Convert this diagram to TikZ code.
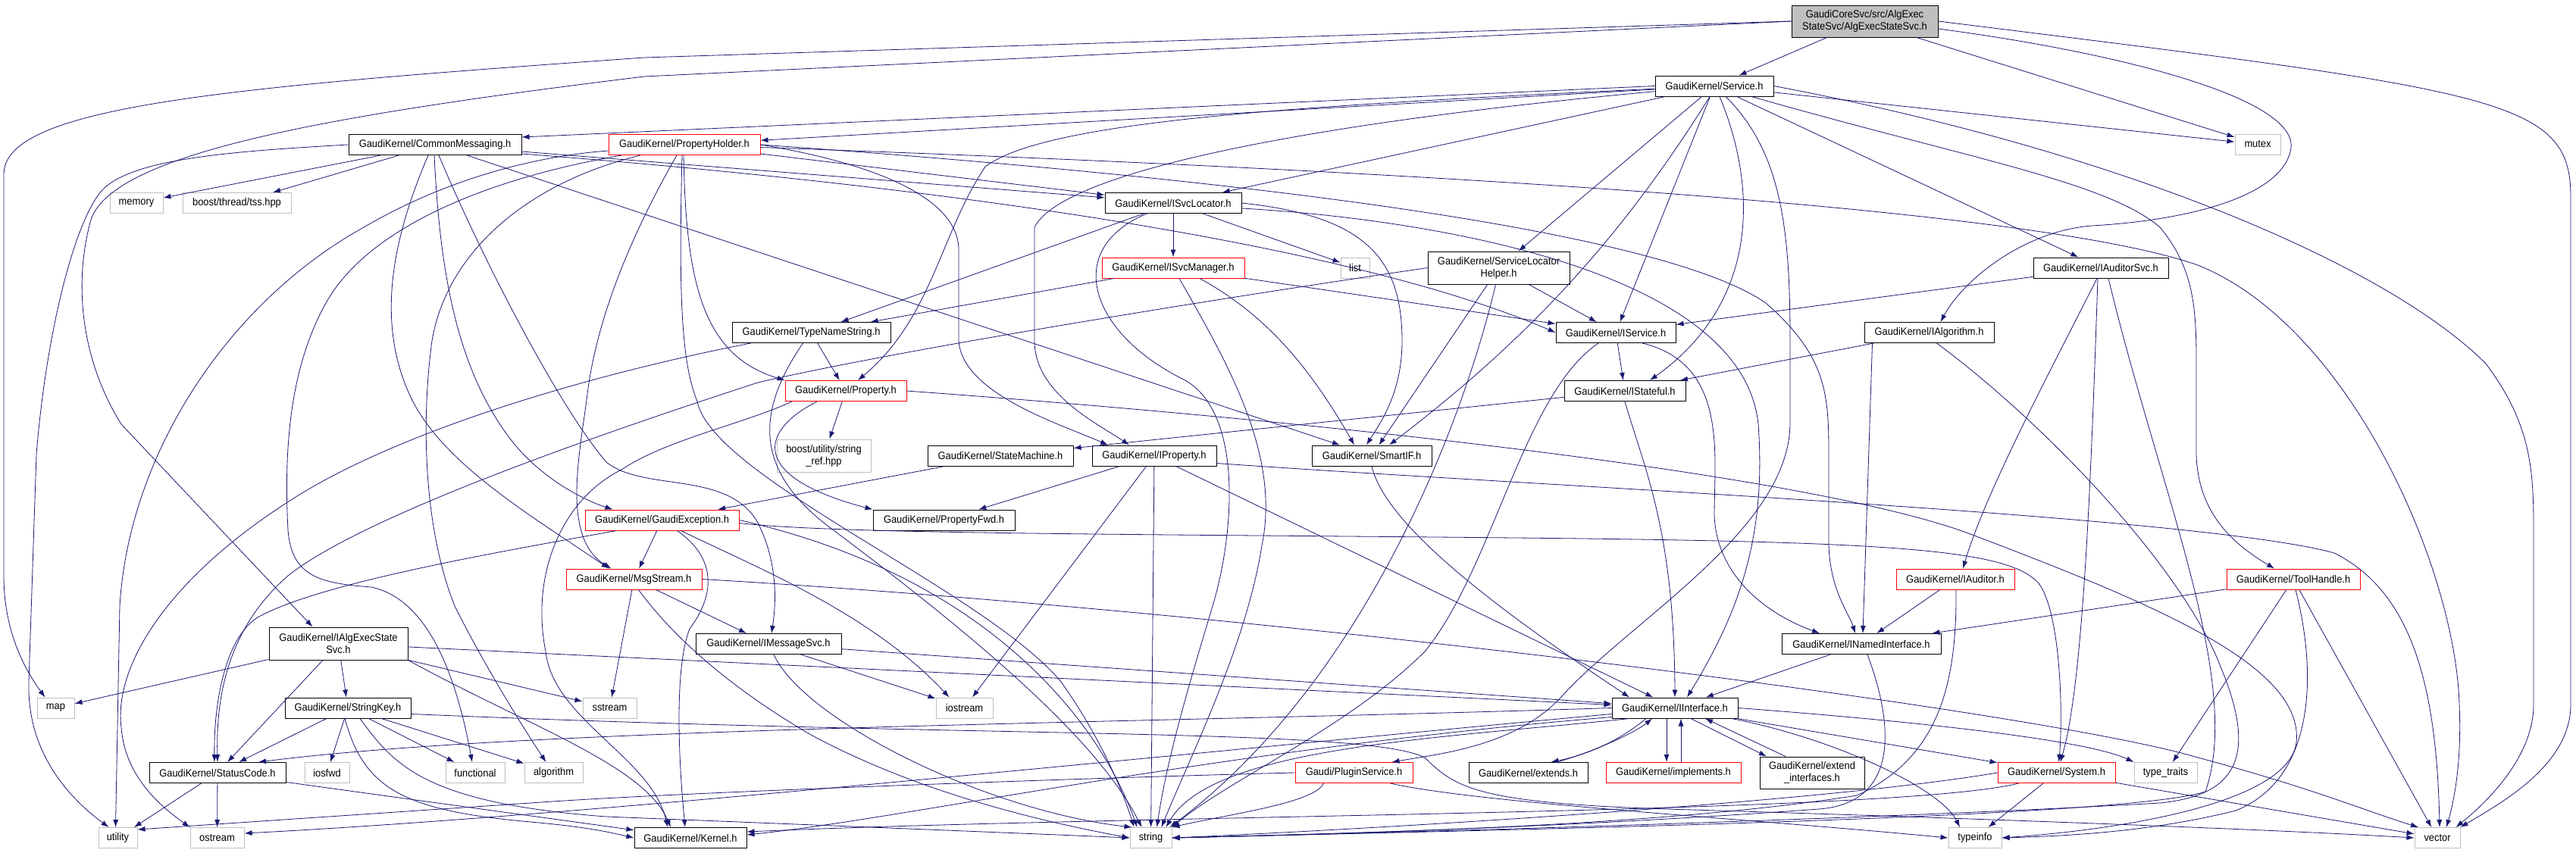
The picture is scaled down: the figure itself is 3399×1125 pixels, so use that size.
\documentclass[tikz,border=0pt]{standalone}
\usepackage{fontspec}
\setmainfont{Liberation Sans}[FakeStretch=0.92]
\usetikzlibrary{arrows.meta}
\definecolor{edgeblue}{RGB}{25,25,112}
\definecolor{extgray}{RGB}{191,191,191}
\tikzset{block/.style={draw, line width=1pt, fill=white, inner sep=0pt, minimum height=27pt, align=center, font=\fontsize{14}{16}\selectfont},
  redblock/.style={block, draw=red},
  grayblock/.style={block, draw=extgray},
  rootblock/.style={block, fill=extgray},
  line/.style={-{Latex[length=10pt,width=7pt]}, draw=edgeblue, line width=0.8pt}}

\begin{document}
\begin{tikzpicture}[x=1pt,y=-1pt]
    \useasboundingbox (0,0) rectangle (3399,1125);

    \node[rootblock,minimum width=193pt,minimum height=42pt] (top)    at (2460.5,28)   {GaudiCoreSvc/src/AlgExec\\StateSvc/AlgExecStateSvc.h};
    \node[block,minimum width=156pt]                       (svc)    at (2262,113.5)  {GaudiKernel/Service.h};
    \node[grayblock,minimum width=60pt]                    (mutex)  at (2979,190.5)  {mutex};
    \node[block,minimum width=228pt]                       (cm)     at (574,191)     {GaudiKernel/CommonMessaging.h};
    \node[grayblock,minimum width=70pt]                    (mem)    at (180,268)     {memory};
    \node[grayblock,minimum width=143pt]                   (tss)    at (312.5,268)   {boost/thread/tss.hpp};
    \node[redblock,minimum width=200pt]                    (ph)     at (903,191)     {GaudiKernel/PropertyHolder.h};
    \node[block,minimum width=180pt]                       (isl)    at (1548,268)    {GaudiKernel/ISvcLocator.h};
    \node[redblock,minimum width=188pt]                    (ism)    at (1548,353.5)  {GaudiKernel/ISvcManager.h};
    \node[block,minimum width=209pt]                       (tns)    at (1070.5,439)  {GaudiKernel/TypeNameString.h};
    \node[redblock,minimum width=160pt]                    (prop)   at (1116,516)    {GaudiKernel/Property.h};
    \node[grayblock,minimum width=38pt]                    (lst)    at (1788,353.5)  {list};
    \node[block,minimum width=187pt,minimum height=43pt]   (slh)    at (1977.5,353.5){GaudiKernel/ServiceLocator\\Helper.h};
    \node[block,minimum width=158pt]                       (isv)    at (2132,439)    {GaudiKernel/IService.h};
    \node[block,minimum width=160pt]                       (ist)    at (2144,516)    {GaudiKernel/IStateful.h};
    \node[block,minimum width=178pt]                       (ias)    at (2772,353.5)  {GaudiKernel/IAuditorSvc.h};
    \node[block,minimum width=171pt]                       (ialg)   at (2545.5,439)  {GaudiKernel/IAlgorithm.h};
    \node[grayblock,minimum width=124pt,minimum height=43pt] (sref) at (1087,601.5)  {boost/utility/string\\\_ref.hpp};
    \node[block,minimum width=192pt]                       (sm)     at (1320,601.5)  {GaudiKernel/StateMachine.h};
    \node[block,minimum width=164pt]                       (iprop)  at (1523,601.5)  {GaudiKernel/IProperty.h};
    \node[block,minimum width=158pt]                       (smif)   at (1810,601.5)  {GaudiKernel/SmartIF.h};
    \node[redblock,minimum width=203pt]                    (gex)    at (873.5,686.5) {GaudiKernel/GaudiException.h};
    \node[block,minimum width=187pt]                       (pfwd)   at (1245.5,686.5){GaudiKernel/PropertyFwd.h};
    \node[redblock,minimum width=179pt]                    (msg)    at (836.5,764.5) {GaudiKernel/MsgStream.h};
    \node[block,minimum width=192pt]                       (imsg)   at (1014,850)    {GaudiKernel/IMessageSvc.h};
    \node[block,minimum width=210pt]                       (inamed) at (2456,850)    {GaudiKernel/INamedInterface.h};
    \node[redblock,minimum width=156pt]                    (iaud)   at (2580,764.5)  {GaudiKernel/IAuditor.h};
    \node[redblock,minimum width=176pt]                    (tool)   at (3026,764.5)  {GaudiKernel/ToolHandle.h};
    \node[block,minimum width=183pt,minimum height=43pt]   (iaes)   at (446.5,849.5) {GaudiKernel/IAlgExecState\\Svc.h};
    \node[grayblock,minimum width=49pt]                    (map)    at (73.5,934.5)  {map};
    \node[grayblock,minimum width=71pt]                    (sstr)   at (804.5,934.5) {sstream};
    \node[grayblock,minimum width=75pt]                    (iostr)  at (1272.5,934.5){iostream};
    \node[block,minimum width=166pt]                       (skey)   at (459,934.5)   {GaudiKernel/StringKey.h};
    \node[block,minimum width=166pt]                       (iif)    at (2210,934.5)  {GaudiKernel/IInterface.h};
    \node[block,minimum width=180pt]                       (sc)     at (287,1020)    {GaudiKernel/StatusCode.h};
    \node[grayblock,minimum width=59pt]                    (iosfwd) at (431.5,1020)  {iosfwd};
    \node[grayblock,minimum width=78pt]                    (func)   at (627,1020)    {functional};
    \node[grayblock,minimum width=77pt]                    (algo)   at (730.5,1020)  {algorithm};
    \node[redblock,minimum width=155pt]                    (plug)   at (1786.5,1020) {Gaudi/PluginService.h};
    \node[block,minimum width=157pt]                       (ext)    at (2016.5,1020) {GaudiKernel/extends.h};
    \node[redblock,minimum width=178pt]                    (impl)   at (2208,1020)   {GaudiKernel/implements.h};
    \node[block,minimum width=138pt,minimum height=42pt]   (extif)  at (2391,1020)   {GaudiKernel/extend\\\_interfaces.h};
    \node[redblock,minimum width=155pt]                    (sys)    at (2713.5,1020) {GaudiKernel/System.h};
    \node[grayblock,minimum width=83pt]                    (ttr)    at (2857.5,1020) {type\_traits};
    \node[grayblock,minimum width=51pt]                    (util)   at (155.5,1106)  {utility};
    \node[grayblock,minimum width=71pt]                    (ostr)   at (286.5,1106)  {ostream};
    \node[block,minimum width=148pt]                       (kern)   at (911,1106)    {GaudiKernel/Kernel.h};
    \node[grayblock,minimum width=55pt]                    (str)    at (1518.5,1106) {string};
    \node[grayblock,minimum width=70pt]                    (tinfo)  at (2606,1106)   {typeinfo};
    \node[grayblock,minimum width=60pt]                    (vec)    at (3216,1106)   {vector};

    \draw[line] (top) -- (svc);
    \draw[line] (top) -- (mutex);
    \draw[line] (top.east) .. controls (3300,120) and (3392,130) .. (3392,260) -- (3392,930) .. controls (3392,1010) and (3300,1060) .. (vec.north east);
    \draw[line] (top.west) -- (850,76) .. controls (300,115) and (5,140) .. (5,230) -- (5,760) .. controls (5,830) and (30,880) .. ([xshift=-14pt]map.north);
    \draw[line] (top.west) -- (850,101) .. controls (450,150) and (150,200) .. (120,290) .. controls (95,380) and (110,480) .. (160,560) -- ([xshift=-34pt]iaes.north);
    \draw[line] ([yshift=-10pt]top.east) .. controls (2800,70) and (3030,130) .. (3023,195) .. controls (3015,255) and (2900,290) .. (2760,298) .. controls (2670,305) and (2590,370) .. ([xshift=15pt]ialg.north);

    \draw[line] (svc.west) -- ([yshift=-4pt]cm.north east);
    \draw[line] (svc) -- (ph);
    \draw[line] (svc) .. controls (1700,140) and (1380,160) .. (1300,220) .. controls (1240,310) and (1230,420) .. ([xshift=16pt]prop.north);
    \draw[line] (svc) .. controls (1700,165) and (1400,230) .. (1365,300) -- (1365,450) .. controls (1365,520) and (1450,560) .. ([xshift=-33pt]iprop.north);
    \draw[line] (svc) -- (isl);
    \draw[line] (svc) -- (slh);
    \draw[line] ([xshift=-6pt]svc.south) .. controls (2130,330) and (2000,460) .. ([xshift=23pt]smif.north);
    \draw[line] (svc) -- (isv);
    \draw[line] ([xshift=7pt]svc.south) .. controls (2320,250) and (2320,400) .. ([xshift=33pt]ist.north);
    \draw[line] ([xshift=15pt]svc.south) .. controls (2350,200) and (2362,300) .. (2362,450) -- (2362,560) .. controls (2360,700) and (2150,820) .. (2060,920) .. controls (2000,985) and (1900,995) .. ([xshift=50pt]plug.north);
    \draw[line] (svc) -- (ias);
    \draw[line] (svc) .. controls (2600,210) and (2780,240) .. (2850,300) .. controls (2900,360) and (2898,420) .. (2898,500) -- (2898,600) .. controls (2900,680) and (2950,720) .. ([xshift=-25pt]tool.north);
    \draw[line] (svc) -- (mutex);
    \draw[line] (svc.east) .. controls (2800,200) and (3150,350) .. (3280,480) .. controls (3340,560) and (3343,620) .. (3343,700) -- (3343,930) .. controls (3343,1000) and (3280,1060) .. ([xshift=-6pt]vec.north east);

    \draw[line] (cm.west) .. controls (300,200) and (170,210) .. (133,253) .. controls (95,300) and (60,450) .. (48,600) -- (38,900) .. controls (35,1000) and (100,1060) .. ([xshift=-12pt]util.north);
    \draw[line] (cm) -- (mem);
    \draw[line] (cm) -- (tss);
    \draw[line] ([xshift=-9pt]cm.south) .. controls (520,310) and (495,420) .. (540,520) .. controls (580,610) and (700,680) .. ([xshift=-33pt]msg.north);
    \draw[line] ([xshift=-1pt]cm.south) .. controls (580,350) and (600,480) .. (670,575) .. controls (710,630) and (770,660) .. ([xshift=-65pt]gex.north);
    \draw[line] ([xshift=5pt]cm.south) .. controls (640,350) and (740,540) .. (800,610) .. controls (850,650) and (960,620) .. (1000,690) .. controls (1025,740) and (1025,790) .. ([xshift=4pt]imsg.north);
    \draw[line] (cm) -- (isl);
    \draw[line] ([yshift=-12pt]cm.east) .. controls (1300,250) and (1800,330) .. (isv.west);
    \draw[line] (cm) -- (smif);

    \draw[line] (ph) -- (isl);
    \draw[line] ([xshift=-1pt]ph.south) .. controls (905,380) and (930,470) .. (prop.north west);
    \draw[line] (ph.east) .. controls (1150,215) and (1265,260) .. (1265,330) -- (1265,450) .. controls (1270,520) and (1400,560) .. ([xshift=-61pt]iprop.north);
    \draw[line] (ph.east) .. controls (1700,240) and (2200,310) .. (2330,400) .. controls (2410,470) and (2413,520) .. (2413,600) -- (2413,720) .. controls (2415,780) and (2440,810) .. ([xshift=-8pt]inamed.north);
    \draw[line] ([xshift=-10pt]ph.south) .. controls (850,280) and (790,400) .. (775,520) .. controls (765,600) and (740,710) .. ([xshift=-30pt]msg.north);
    \draw[line] ([xshift=-3pt]ph.south) .. controls (895,400) and (900,480) .. (920,530) .. controls (940,630) and (1300,780) .. (1400,900) .. controls (1450,970) and (1480,1040) .. ([xshift=-22pt]str.north);
    \draw[line] ([xshift=-58pt]ph.south) .. controls (700,240) and (590,330) .. (570,450) .. controls (555,560) and (560,700) .. (600,800) .. controls (640,880) and (690,960) .. ([xshift=-10pt]algo.north);
    \draw[line] ([xshift=-83pt]ph.south) .. controls (620,240) and (480,310) .. (430,400) .. controls (380,490) and (375,600) .. (380,700) .. controls (385,760) and (420,770) .. (490,775) .. controls (560,790) and (600,880) .. ([xshift=-4pt]func.north);
    \draw[line] ([yshift=-8pt]ph.west) .. controls (720,205) and (600,230) .. (480,300) .. controls (300,400) and (170,600) .. (158,800) -- ([xshift=-3pt]util.north);
    \draw[line] (ph) .. controls (2000,230) and (2700,280) .. (2900,350) .. controls (3100,430) and (3240,750) .. (3245,930) .. controls (3248,1000) and (3240,1050) .. ([xshift=12pt]vec.north);

    \draw[line] (isl) -- (ism);
    \draw[line] (isl) -- (lst);
    \draw[line] (isl) -- (tns);
    \draw[line] (isl.east) .. controls (1800,285) and (1850,340) .. (1850,450) .. controls (1850,520) and (1820,560) .. ([xshift=-7pt]smif.north);
    \draw[line] ([xshift=-35pt]isl.south) .. controls (1400,330) and (1440,440) .. (1560,500) .. controls (1640,540) and (1630,700) .. (1600,800) .. controls (1570,900) and (1540,1000) .. ([xshift=8pt]str.north);
    \draw[line] ([yshift=-7pt]isl.east) .. controls (1900,290) and (2300,360) .. (2320,560) .. controls (2330,700) and (2300,800) .. ([xshift=16pt]iif.north);

    \draw[line] (ism) -- (tns);
    \draw[line] (ism) -- (isv);
    \draw[line] ([xshift=35pt]ism.south) .. controls (1660,410) and (1720,470) .. ([xshift=-23pt]smif.north);
    \draw[line] ([xshift=8pt]ism.south) .. controls (1620,480) and (1690,600) .. (1665,720) .. controls (1645,850) and (1570,1000) .. ([xshift=14pt]str.north);

    \draw[line] (tns) -- (prop);
    \draw[line] ([xshift=-11pt]tns.south) .. controls (1000,540) and (990,620) .. (1100,700) .. controls (1300,850) and (1450,980) .. ([xshift=-12pt]str.north);
    \draw[line] ([xshift=-80pt]tns.south) .. controls (800,490) and (550,560) .. (400,650) .. controls (220,760) and (150,880) .. (160,960) .. controls (165,1030) and (220,1070) .. (ostr.north west);

    \draw[line] (prop) -- (sref);
    \draw[line] ([xshift=-38pt]prop.south) .. controls (1000,570) and (990,630) .. (pfwd.north west);
    \draw[line] (prop.east) .. controls (1800,560) and (2400,630) .. (2600,705) .. controls (2850,800) and (3040,880) .. (3030,980) .. controls (3020,1060) and (2800,1095) .. (tinfo.east);
    \draw[line] ([xshift=-71pt]prop.south) .. controls (980,560) and (880,580) .. (820,620) .. controls (740,660) and (700,760) .. (720,860) .. controls (730,950) and (860,1000) .. ([xshift=-30pt]kern.north);

    \draw[line] (slh) -- (isv);
    \draw[line] (slh) -- (smif);
    \draw[line] ([xshift=-4pt]slh.south) .. controls (1930,560) and (1800,900) .. ([xshift=25pt]str.north);
    \draw[line] (slh.west) .. controls (1500,410) and (1150,470) .. (1000,505) .. controls (800,570) and (480,680) .. (380,760) .. controls (300,830) and (285,920) .. (sc.north);

    \draw[line] (isv) -- (ist);
    \draw[line] ([xshift=35pt]isv.south) .. controls (2280,480) and (2262,600) .. (2262,680) .. controls (2265,760) and (2330,810) .. ([xshift=-55pt]inamed.north);
    \draw[line] ([xshift=-23pt]isv.south) .. controls (2010,520) and (1970,750) .. (1880,860) .. controls (1780,960) and (1620,1030) .. ([xshift=28pt]str.north);

    \draw[line] (ist) -- (sm);
    \draw[line] (ist.south) .. controls (2170,620) and (2209,700) .. (iif.north);

    \draw[line] (ias) -- (isv);
    \draw[line] ([xshift=-5pt]ias.south) .. controls (2700,500) and (2620,650) .. ([xshift=10pt]iaud.north);
    \draw[line] ([xshift=-4pt]ias.south) .. controls (2760,600) and (2750,900) .. ([xshift=5pt]sys.north);
    \draw[line] ([xshift=10pt]ias.south) .. controls (2850,650) and (2960,900) .. (2910,1045) .. controls (2800,1080) and (2000,1095) .. (str.east);

    \draw[line] (ialg) -- (ist);
    \draw[line] ([xshift=-75pt]ialg.south) -- ([xshift=2pt]inamed.north);
    \draw[line] ([xshift=10pt]ialg.south) .. controls (2700,560) and (2880,750) .. (2930,880) .. controls (2980,1000) and (2950,1050) .. (2850,1060) .. controls (2500,1080) and (1900,1098) .. (str.east);

    \draw[line] (iaud) -- (inamed);
    \draw[line] ([xshift=1pt]iaud.south) .. controls (2582,900) and (2560,1000) .. (2450,1050) .. controls (2200,1090) and (1800,1100) .. (str.east);

    \draw[line] (tool) -- (inamed);
    \draw[line] (tool) -- (ttr);
    \draw[line] (tool) -- (vec);
    \draw[line] ([xshift=3pt]tool.south) .. controls (3060,900) and (3050,1030) .. (2950,1070) .. controls (2850,1095) and (2750,1103) .. (tinfo.east);

    \draw[line] (sys) -- (tinfo);
    \draw[line] (sys) -- (vec);
    \draw[line] (sys.west) .. controls (2400,1060) and (1800,1095) .. (str.east);
    \draw[line] ([xshift=-50pt]sys.south) .. controls (2500,1075) and (1500,1075) .. ([yshift=8pt]kern.east);

    \draw[line] (plug.west) .. controls (1500,1025) and (900,1045) .. (700,1060) -- ([yshift=-3pt]util.north east);
    \draw[line] ([xshift=-40pt]plug.south) .. controls (1735,1060) and (1620,1075) .. (str.north east);
    \draw[line] ([xshift=48pt]plug.south) .. controls (1950,1060) and (2300,1080) .. (tinfo.west);

    \draw[line] (inamed) -- (iif);
    \draw[line] ([xshift=8pt]inamed.south) .. controls (2500,960) and (2505,1060) .. (2400,1068) .. controls (2100,1090) and (1800,1100) .. (str.east);

    \draw[line] ([xshift=-38pt]iif.south) .. controls (2140,975) and (2100,995) .. ([xshift=30pt]ext.north);
    \draw[line] ([xshift=38pt]ext.north) .. controls (2110,990) and (2160,965) .. ([xshift=-30pt]iif.south);
    \draw[line] ([xshift=-11pt]iif.south) -- ([xshift=-9pt]impl.north);
    \draw[line] ([xshift=10pt]impl.north) -- ([xshift=8pt]iif.south);
    \draw[line] ([xshift=21pt]iif.south) -- ([xshift=-60pt]extif.north);
    \draw[line] ([xshift=-35pt]extif.north) -- ([xshift=40pt]iif.south);
    \draw[line] (iif.west) .. controls (1500,955) and (700,960) .. ([xshift=54pt]sc.north);
    \draw[line] ([yshift=-8pt]iif.west) .. controls (1500,1000) and (800,1075) .. ([yshift=6pt]ostr.east);
    \draw[line] ([yshift=-12pt]iif.west) .. controls (1600,990) and (1200,1080) .. ([yshift=4pt]kern.east);
    \draw[line] ([xshift=-60pt]iif.south) .. controls (1900,975) and (1600,985) .. ([xshift=20pt]str.north);
    \draw[line] (iif.east) .. controls (2500,950) and (2750,975) .. (ttr.north west);
    \draw[line] (iif) -- (sys);
    \draw[line] ([xshift=75pt]iif.south) .. controls (2420,975) and (2560,1040) .. ([xshift=-20pt]tinfo.north);

    \draw[line] (smif.south) .. controls (1830,700) and (2000,820) .. ([xshift=-60pt]iif.north);

    \draw[line] (iprop) -- (pfwd);
    \draw[line] (iprop) -- (iostr);
    \draw[line] (iprop) -- (str);
    \draw[line] (iprop) -- (iif);
    \draw[line] ([yshift=-10pt]iprop.east) .. controls (2000,640) and (2900,680) .. (3080,730) .. controls (3180,780) and (3215,900) .. ([xshift=3pt]vec.north);

    \draw[line] (sm) -- (gex);

    \draw[line] (gex) -- (msg);
    \draw[line] ([xshift=-60pt]gex.south) .. controls (650,730) and (420,770) .. (340,815) .. controls (300,840) and (282,920) .. ([xshift=-4pt]sc.north);
    \draw[line] ([xshift=20pt]gex.south) .. controls (950,740) and (940,790) .. (910,830) .. controls (890,880) and (895,1000) .. ([xshift=-7pt]kern.north);
    \draw[line] ([xshift=25pt]gex.south) .. controls (1000,750) and (1150,810) .. ([xshift=-20pt]iostr.north);
    \draw[line] (gex.east) .. controls (1300,760) and (1450,950) .. ([xshift=-18pt]str.north);
    \draw[line] ([yshift=-4pt]gex.east) .. controls (1100,705) and (1500,705) .. (2000,710) .. controls (2500,715) and (2650,725) .. (2690,770) .. controls (2720,810) and (2722,950) .. ([xshift=3pt]sys.north);

    \draw[line] (msg) -- (imsg);
    \draw[line] (msg) -- (sstr);
    \draw[line] ([xshift=6pt]msg.south) .. controls (880,830) and (950,900) .. (1070,970) .. controls (1200,1040) and (1350,1080) .. (str.west);
    \draw[line] (msg.east) .. controls (1700,810) and (2700,940) .. (2900,1000) .. controls (3050,1040) and (3120,1070) .. ([xshift=-25pt]vec.north);

    \draw[line] (imsg) -- (iostr);
    \draw[line] (imsg) -- (iif);
    \draw[line] ([xshift=7pt]imsg.south) .. controls (1060,950) and (1300,1070) .. ([xshift=-25pt]str.north);

    \draw[line] (iaes) -- (map);
    \draw[line] (iaes) -- (sc);
    \draw[line] (iaes) -- (skey);
    \draw[line] (iaes) -- (sstr);
    \draw[line] (iaes) -- (iif);
    \draw[line] (iaes.south east) .. controls (700,960) and (850,1010) .. ([xshift=-26pt]kern.north);

    \draw[line] (skey) -- (sc);
    \draw[line] (skey) -- (iosfwd);
    \draw[line] (skey) -- (func);
    \draw[line] (skey) -- (algo);
    \draw[line] ([xshift=16pt]skey.south) .. controls (520,1010) and (560,1060) .. (800,1078) .. controls (1100,1090) and (1350,1100) .. (str.west);
    \draw[line] ([xshift=-4pt]skey.south) .. controls (480,1040) and (530,1070) .. (700,1085) .. controls (780,1092) and (810,1100) .. (kern.west);
    \draw[line] ([yshift=-8pt]skey.east) .. controls (1300,975) and (1800,960) .. (1880,1000) .. controls (1920,1040) and (1950,1060) .. (2200,1068) .. controls (2600,1080) and (3000,1095) .. (vec.west);

    \draw[line] (sc) -- (util);
    \draw[line] (sc) -- (ostr);
    \draw[line] (sc) -- (kern);
\end{tikzpicture}
\end{document}
